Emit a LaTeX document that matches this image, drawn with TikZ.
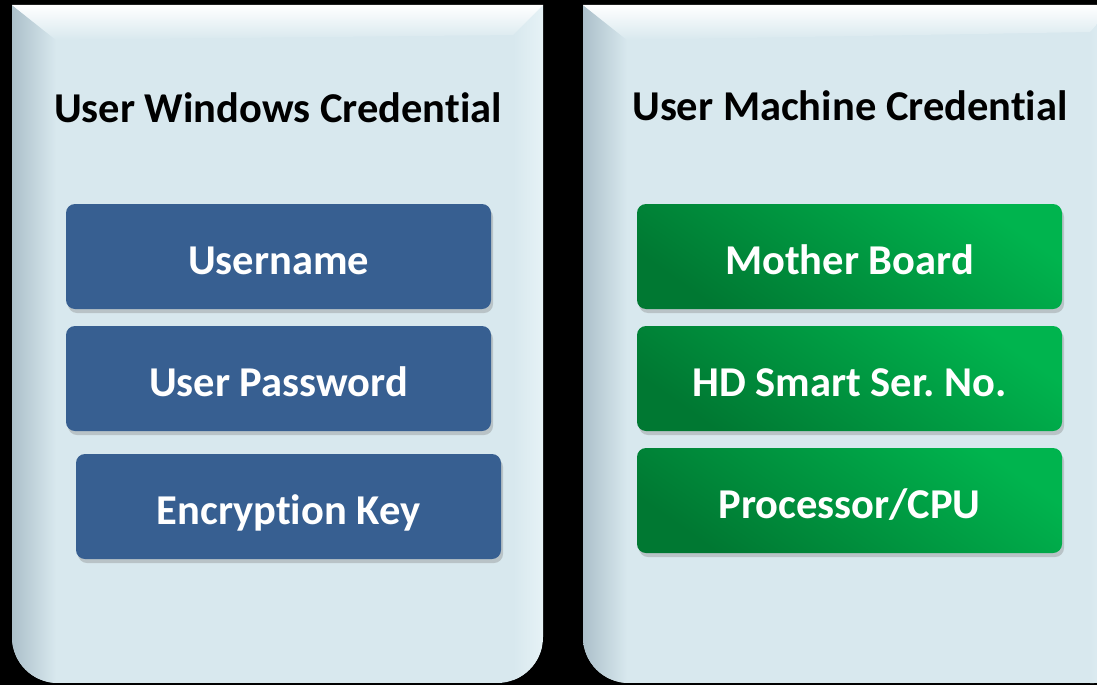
\documentclass[tikz,border=0pt]{standalone}
\usepackage{fontspec}
\setmainfont{Carlito}[RawFeature=-liga]
\usetikzlibrary{shadows}
\definecolor{panelc}{RGB}{216,232,238}
\definecolor{paneledge}{RGB}{172,192,202}
\definecolor{panelhi}{RGB}{230,242,246}
\definecolor{bluebox}{RGB}{55,95,145}
\definecolor{gdark}{RGB}{0,120,50}
\definecolor{glight}{RGB}{0,180,78}
\tikzset{
  boxbase/.style={rounded corners=9pt, minimum width=425pt, minimum height=105pt,
    inner sep=0pt, text=white, font=\fontsize{42.5}{46}\selectfont\bfseries,
    text height=36pt, text depth=0pt,
    drop shadow={opacity=0.35, shadow xshift=2pt, shadow yshift=-4pt}},
  bluestyle/.style={boxbase, fill=bluebox},
  greenstyle/.style={boxbase, top color=glight, bottom color=gdark, shading angle=-35},
  titlestyle/.style={font=\fontsize{42.5}{46}\selectfont\bfseries, text=black, inner sep=0pt}
}
\frenchspacing
\begin{document}
\begin{tikzpicture}[x=1pt,y=-1pt]
\useasboundingbox (0,0) rectangle (1097,685);
\fill[black] (0,0) rectangle (1097,685);
% left panel
\begin{scope}
  \clip (12,5) -- (543,5) [rounded corners=46pt] -- (543,683) -- (12,683) [sharp corners] -- (12,5) -- cycle;
  \fill[panelc] (12,5) rectangle (543,683);
  \shade[left color=paneledge, right color=panelc] (12,5) -- (56,40) -- (56,685) -- (12,685) -- cycle;
  \shade[left color=panelc, right color=panelhi] (543,5) -- (513,35) -- (513,685) -- (543,685) -- cycle;
  \shade[top color=white, bottom color=panelc] (12,5) -- (543,5) -- (513,35) -- (56,40) -- cycle;
\end{scope}
% right panel
\begin{scope}
  \clip (583,5) -- (1140,5) [rounded corners=46pt] -- (1140,683) -- (583,683) [sharp corners] -- (583,5) -- cycle;
  \fill[panelc] (583,5) rectangle (1140,683);
  \shade[left color=paneledge, right color=panelc] (583,5) -- (627,40) -- (627,685) -- (583,685) -- cycle;
  \shade[left color=panelc, right color=panelhi] (1114,5) -- (1090,30) -- (1090,685) -- (1114,685) -- cycle;
  \shade[top color=white, bottom color=panelc] (583,5) -- (1114,5) -- (1090,32) -- (627,40) -- cycle;
\end{scope}
% titles
\node[titlestyle] (t1) at (278,108) {User Windows Credential};
\node[titlestyle] (t2) at (850,106) {User Machine Credential};
% left boxes
\node[bluestyle] (u1) at (278.5,256.5) {Username};
\node[bluestyle] (u2) at (278.5,378.5) {User Password};
\node[bluestyle] (u3) at (288.5,506.5) {Encryption Key};
% right boxes
\node[greenstyle] (m1) at (849.5,256.5) {Mother Board};
\node[greenstyle] (m2) at (849.5,378.5) {HD Smart Ser. No.};
\node[greenstyle] (m3) at (849.5,500.5) {Processor/CPU};
\end{tikzpicture}
\end{document}
